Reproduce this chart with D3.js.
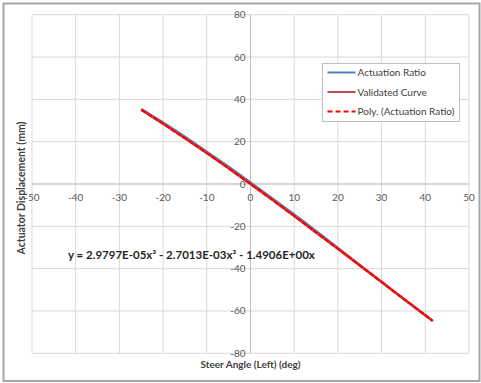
<!DOCTYPE html>
<html>
<head>
<meta charset="utf-8">
<script src="https://cdn.jsdelivr.net/npm/d3@7"></script>
<style>
  body{margin:0;background:#fff;}
  svg{display:block;font-family:Lato,"Open Sans",sans-serif;}
</style>
</head>
<body>
<svg id="chart"></svg>
<script>
// ---------- DATA --------------------------------------------------------
const steerAngle   = [-25, -20, -15, -10, -5, 0, 5, 10, 15, 20, 25, 30, 35, 40, 41.7];
const actuation    = [35.4, 29.0, 22.3, 15.3, 8.1, 0.7, -6.8, -14.4, -22.2, -30.2, -38.3, -46.3, -54.2, -62.0, -64.7];
const validated    = [35.1, 28.5, 21.6, 14.6, 7.4, 0.0, -7.5, -15.1, -22.9, -30.6, -38.5, -46.3, -54.2, -62.0, -64.7];
const polyFit      = [35.1, 28.5, 21.6, 14.6, 7.4, 0.0, -7.5, -15.1, -22.9, -30.6, -38.5, -46.3, -54.2, -62.0, -64.7];
const xTicks = [-50, -40, -30, -20, -10, 0, 10, 20, 30, 40, 50];
const yTicks = [-80, -60, -40, -20, 0, 20, 40, 60, 80];
const legendLabels = ['Actuation Ratio', 'Validated Curve', 'Poly. (Actuation Ratio)'];
const equation = 'y = 2.9797E-05x³ - 2.7013E-03x² - 1.4906E+00x';

// ---------- CONSTANTS ---------------------------------------------------
const W = 481, H = 383;
const P = {left:32, right:469, top:14.7, bottom:353.3};
const COLORS = {act:'#4f81bd', val:'#c0504d', poly:'#ff0000', grid:'#d9d9d9', txt:'#595959'};

const svg = d3.select('#chart').attr('width', W).attr('height', H);

// outer frame
svg.append('rect').attr('x',3.5).attr('y',3.5).attr('width',W-5).attr('height',H-5.5)
   .attr('fill','#fff').attr('stroke','#a6a6a6').attr('stroke-width',2);

const x = d3.scaleLinear().domain([-50,50]).range([P.left,P.right]);
const y = d3.scaleLinear().domain([-80,80]).range([P.bottom,P.top]);

// gridlines
const grid = svg.append('g');
grid.selectAll('.gx').data(xTicks).enter().append('line')
  .attr('x1',d=>x(d)).attr('x2',d=>x(d)).attr('y1',y(80)).attr('y2',y(-80))
  .attr('stroke',COLORS.grid).attr('stroke-width',1);
grid.selectAll('.gy').data(yTicks).enter().append('line')
  .attr('x1',x(-50)).attr('x2',x(50)).attr('y1',d=>y(d)).attr('y2',d=>y(d))
  .attr('stroke',COLORS.grid).attr('stroke-width',1);

// axes crossing at zero
svg.append('line').attr('x1',x(0)).attr('x2',x(0)).attr('y1',y(80)).attr('y2',y(-80))
   .attr('stroke','#bfbfbf').attr('stroke-width',1);
svg.append('line').attr('x1',x(-50)).attr('x2',x(50)).attr('y1',y(0)).attr('y2',y(0))
   .attr('stroke','#bfbfbf').attr('stroke-width',1);

// tick labels
svg.append('g').selectAll('text').data(xTicks).enter().append('text')
  .attr('x',d=>x(d)).attr('y',y(0)+17).attr('text-anchor','middle')
  .attr('font-size',10).attr('fill',COLORS.txt).text(d=>d);
svg.append('g').selectAll('text').data(yTicks).enter().append('text')
  .attr('x',x(0)-5).attr('y',d=>y(d)+3.5).attr('text-anchor','end')
  .attr('font-size',10).attr('fill',COLORS.txt).text(d=>d);

// axis titles
svg.append('text').attr('transform',`translate(25,${(P.top+P.bottom)/2+4}) rotate(-90)`)
   .attr('text-anchor','middle').attr('font-size',10.5).attr('font-weight',700)
   .attr('fill','#404040').text('Actuator Displacement (mm)');
svg.append('text').attr('x',x(0)).attr('y',368).attr('text-anchor','middle')
   .attr('font-size',10).attr('font-weight',700).attr('fill','#404040')
   .text('Steer Angle (Left) (deg)');

// series
const pts = ys => steerAngle.map((a,i)=>[a, ys[i]]);
const line = d3.line().x(d=>x(d[0])).y(d=>y(d[1]));
svg.append('path').datum(pts(actuation)).attr('d',line).attr('fill','none')
   .attr('stroke',COLORS.act).attr('stroke-width',2.4);
svg.append('path').datum(pts(validated)).attr('d',line).attr('fill','none')
   .attr('stroke',COLORS.val).attr('stroke-width',2.4);
svg.append('path').datum(pts(polyFit)).attr('d',line).attr('fill','none')
   .attr('stroke',COLORS.poly).attr('stroke-width',2.2).attr('stroke-dasharray','6,1');

// equation
svg.append('text').attr('x',68).attr('y',259).attr('font-size',11.5).attr('font-weight',700)
   .attr('fill','#262626').text(equation);

// legend
const lg = svg.append('g').attr('transform','translate(322.5,63.5)');
lg.append('rect').attr('width',137).attr('height',58).attr('fill','#fff')
  .attr('stroke','#bfbfbf').attr('stroke-width',1);
const lgColors = [COLORS.act, COLORS.val, COLORS.poly];
const lgDash = [null, null, '5,3'];
legendLabels.forEach((t,i)=>{
  const yy = 9 + i*19.5;
  lg.append('line').attr('x1',5).attr('x2',33).attr('y1',yy).attr('y2',yy)
    .attr('stroke',lgColors[i]).attr('stroke-width',2).attr('stroke-dasharray',lgDash[i]);
  lg.append('text').attr('x',35).attr('y',yy+3.5).attr('font-size',10)
    .attr('fill','#404040').text(t);
});
</script>
</body>
</html>
